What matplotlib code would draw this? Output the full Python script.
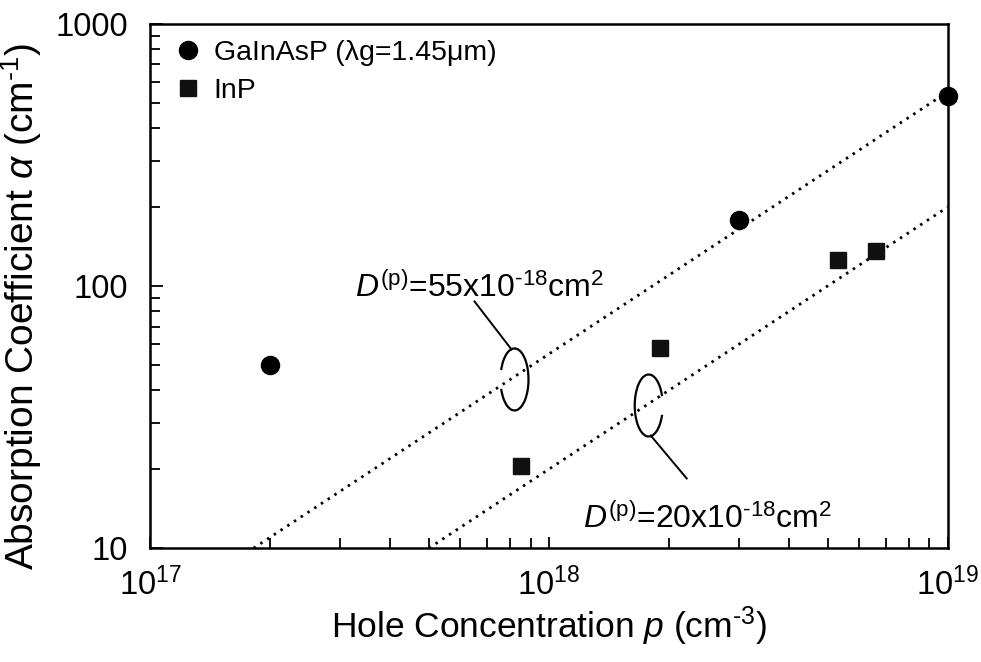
import matplotlib
matplotlib.use("Agg")
import matplotlib.pyplot as plt
import numpy as np
from matplotlib.patches import Arc
from matplotlib.transforms import ScaledTranslation

plt.rcParams['font.family'] = ['Liberation Sans', 'DejaVu Sans']
plt.rcParams['mathtext.fontset'] = 'custom'
plt.rcParams['mathtext.rm'] = 'Liberation Sans'
plt.rcParams['mathtext.it'] = 'Liberation Sans:italic'
plt.rcParams['mathtext.sf'] = 'Liberation Sans'

# measured absorption vs. hole concentration
gainasp_p = [2.0e17, 3.0e18, 1.0e19]
gainasp_alpha = [50, 178, 530]
inp_p = [8.5e17, 1.9e18, 5.3e18, 6.6e18]
inp_alpha = [20.5, 58, 126, 136]

# free-carrier absorption alpha = D * p
D_values = [55e-18, 20e-18]
D_labels = [r'$D^{(\mathrm{p})}$=55x10$^{\text{-}18}$cm$^2$',
            r'$D^{(\mathrm{p})}$=20x10$^{\text{-}18}$cm$^2$']

xlim = (1e17, 1e19)
ylim = (10, 1000)
xticks = [1e17, 1e18, 1e19]
xticklabels = [r'10$^{17}$', r'10$^{18}$', r'10$^{19}$']
yticks = [10, 100, 1000]
yticklabels = ['10', '100', '1000']

fig = plt.figure(figsize=(9.81, 6.62), dpi=100)
ax = fig.add_axes([0.153, 0.172, 0.813, 0.792])
ax.set_xscale('log')
ax.set_yscale('log')
ax.set_xlim(*xlim)
ax.set_ylim(*ylim)

for D in D_values:
    p = np.logspace(np.log10(ylim[0] / D), 19, 50)
    ax.plot(p, D * p, color='black', lw=2.0, linestyle=(0, (0.9, 2.0)), zorder=2)

ax.plot(gainasp_p, gainasp_alpha, 'o', color='black', ms=13, clip_on=False,
        zorder=4, label='GaInAsP (λg=1.45μm)')
ax.plot(inp_p, inp_alpha, 's', color='#111111', ms=12, clip_on=False,
        zorder=4, label='InP')

ax.legend(loc='upper left', bbox_to_anchor=(0.005, 1.002), frameon=False,
          fontsize=20.5, handletextpad=0.3, labelspacing=0.42,
          handlelength=1.2, borderaxespad=0.2)


def loop(px, py, theta1, theta2, lead):
    # small open ellipse round a line, with a leader stroke, sized in inches
    tr = fig.dpi_scale_trans + ScaledTranslation(px, py, ax.transData)
    ax.add_patch(Arc((0, 0), 0.28, 0.62, theta1=theta1, theta2=theta2,
                     transform=tr, color='black', lw=1.6, zorder=3))
    ax.plot(lead[0], lead[1], color='black', lw=1.4, transform=tr, zorder=3)


loop(8.2e17, 44, 215, 145, ([-0.03, -0.40], [0.30, 0.78]))
loop(1.78e18, 35, 35, 325, ([0.02, 0.38], [-0.30, -0.73]))

ax.text(3.27e17, 90.8, D_labels[0], fontsize=23, va='baseline', ha='left')
ax.text(1.22e18, 11.9, D_labels[1], fontsize=23, va='baseline', ha='left')

ax.set_xticks(xticks)
ax.set_xticklabels(xticklabels)
ax.set_yticks(yticks)
ax.set_yticklabels(yticklabels)
ax.tick_params(which='both', direction='in', top=False, right=False,
               labelsize=23.5, width=1.3)
ax.tick_params(axis='x', which='major', length=8, pad=14)
ax.tick_params(axis='y', which='major', length=9, pad=16)
ax.tick_params(which='minor', length=7)
for s in ax.spines.values():
    s.set_linewidth(1.8)

ax.set_xlabel(r'Hole Concentration $p$ (cm$^{\text{-}3}$)', fontsize=25.5,
              labelpad=2)
ax.set_ylabel(r'Absorption Coefficient $\alpha$ (cm$^{\text{-}1}$)',
              fontsize=28)
ax.yaxis.set_label_coords(-0.133, 0.46)

fig.savefig('out.png', dpi=100)
